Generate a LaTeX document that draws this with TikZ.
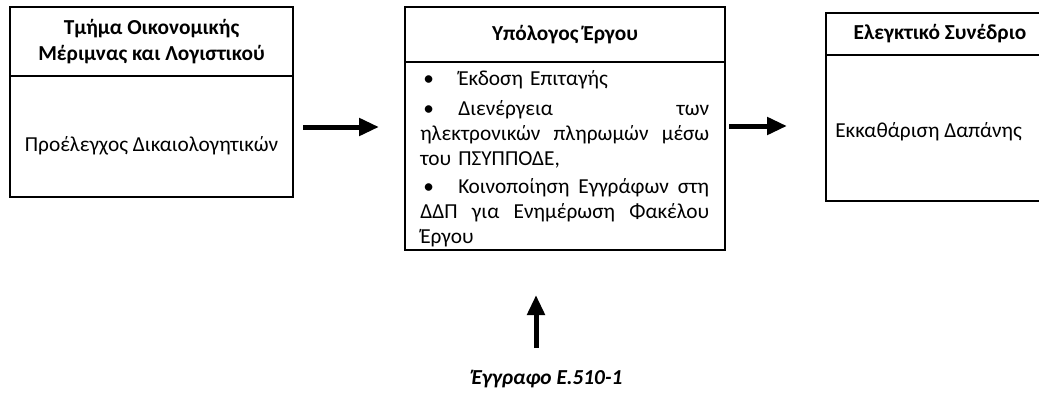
\documentclass[tikz,border=0pt]{standalone}
\usepackage{fontspec}
\setmainfont{Carlito}
\usetikzlibrary{arrows.meta,calc}
% type sizes (1 unit of the picture = 0.75pt)
\newcommand\bodyfont{\fontsize{16pt}{18.75pt}\selectfont}
\newcommand\headfont{\fontsize{16pt}{19.5pt}\selectfont\bfseries}
\newlength\itemw
\setlength\itemw{216.75pt}
% bullet with its hanging tab
\newcommand\bul[1]{\hbox to 28.5pt{\hskip 2.25pt\textbullet\hfil}#1}
\begin{document}
\begin{tikzpicture}[x=0.75pt,y=-0.75pt,
  panel/.style={draw, line width=1.5pt, inner sep=0pt, outer sep=0pt},
  headtext/.style={font=\headfont, align=center},
  bodytext/.style={font=\bodyfont, inner sep=0pt},
  flow/.style={line width=3.75pt, -{Triangle[length=15pt,width=12.75pt]}}]
\useasboundingbox (0,0) rectangle (1039,396);
\clip (0,0) rectangle (1039,396);

% first department
\node[panel, headtext, minimum width=212.25pt, minimum height=51.75pt] (h1) at (151.5,41.5)
  {Τμήμα Οικονομικής\\Μέριμνας και Λογιστικού};
\node[panel, minimum width=212.25pt, minimum height=90.75pt, anchor=north] (b1) at (h1.south) {};
\node[bodytext] (t1) at (151.5,146) {Προέλεγχος Δικαιολογητικών};

% accountable officer
\node[panel, headtext, minimum width=240pt, minimum height=41.25pt] (h2) at (565,34.5)
  {Υπόλογος Έργου};
\node[panel, minimum width=240pt, minimum height=141pt, anchor=north] (b2) at (h2.south) {};
\node[bodytext, anchor=north west, text width=216.75pt] (t2) at (420,65) {%
  \hbox to \itemw{\vrule height 15pt width 0pt\bul{Έκδοση Επιταγής}\hfil}%
  \vskip 3.75pt
  \hbox to \itemw{\bul{Διενέργεια}\hfil των}%
  \hbox to \itemw{ηλεκτρονικών \hfil πληρωμών \hfil μέσω}%
  \hbox to \itemw{του ΠΣΥΠΠΟΔΕ,\hfil}%
  \vskip 2.25pt
  \hbox to \itemw{\bul{Κοινοποίηση} \hfil Εγγράφων \hfil στη}%
  \hbox to \itemw{ΔΔΠ \hfil για \hfil Ενημέρωση \hfil Φακέλου}%
  \hbox to \itemw{Έργου\hfil}};

% court of audit
\node[panel, headtext, minimum width=171pt, minimum height=31.5pt] (h3) at (940,34)
  {Ελεγκτικό Συνέδριο};
\node[panel, minimum width=171pt, minimum height=109.5pt, anchor=north] (b3) at (h3.south) {};
\node[bodytext, anchor=west] (t3) at (835,132) {Εκκαθάριση Δαπάνης};

% document feeding the officer
\node[bodytext, font=\bodyfont\bfseries\itshape] (cap) at (547,379) {Έγγραφο Ε.510-1};

% flow arrows
\coordinate (a1s) at (303,127);
\coordinate (a1e) at (379,127);
\coordinate (a2s) at (729,126);
\coordinate (a2e) at (787,126);
\coordinate (a3s) at (536,348);
\coordinate (a3e) at (536,295);
\draw[flow] (a1s) -- (a1e);
\draw[flow] (a2s) -- (a2e);
\draw[flow] (a3s) -- (a3e);
\end{tikzpicture}
\end{document}
